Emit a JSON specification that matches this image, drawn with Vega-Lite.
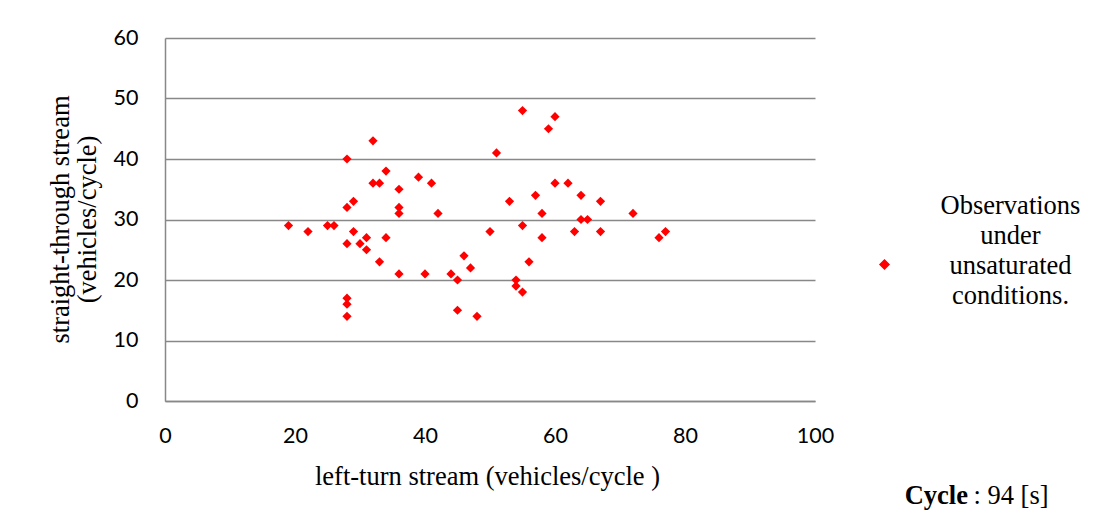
{
  "$schema": "https://vega.github.io/schema/vega-lite/v6.json",
  "autosize": "none",
  "padding": {"left": 165, "top": 38, "right": 305, "bottom": 116},
  "width": 650,
  "height": 363,
  "background": "white",
  "title": {"text": "Cycle", "orient": "top", "anchor": "start", "frame": "group", "align": "right", "baseline": "middle", "offset": 0, "dx": 803, "dy": 495, "font": "Liberation Serif", "fontSize": 26.5, "fontWeight": "bold", "color": "#000"},
  "config": {
    "view": {"stroke": null},
    "axis": {"labelFont": "Lato", "labelFontSize": 21.5, "labelColor": "#000", "labelFlush": false, "labelOverlap": false, "titleFont": "Liberation Serif", "titleFontSize": 26.5, "titleFontWeight": "normal", "titleColor": "#000", "domainColor": "#888", "domainWidth": 1.5, "gridColor": "#888", "gridWidth": 1.5, "ticks": false}
  },
  "data": {"values": [
    {"left": 19, "straight": 29}, {"left": 22, "straight": 28}, {"left": 25, "straight": 29}, {"left": 26, "straight": 29},
    {"left": 28, "straight": 40}, {"left": 28, "straight": 32}, {"left": 28, "straight": 26}, {"left": 28, "straight": 17},
    {"left": 28, "straight": 16}, {"left": 28, "straight": 14}, {"left": 29, "straight": 33}, {"left": 29, "straight": 28},
    {"left": 30, "straight": 26}, {"left": 31, "straight": 27}, {"left": 31, "straight": 25}, {"left": 32, "straight": 43},
    {"left": 32, "straight": 36}, {"left": 33, "straight": 36}, {"left": 33, "straight": 23}, {"left": 34, "straight": 38},
    {"left": 34, "straight": 27}, {"left": 36, "straight": 35}, {"left": 36, "straight": 32}, {"left": 36, "straight": 31},
    {"left": 36, "straight": 21}, {"left": 39, "straight": 37}, {"left": 40, "straight": 21}, {"left": 41, "straight": 36},
    {"left": 42, "straight": 31}, {"left": 44, "straight": 21}, {"left": 45, "straight": 20}, {"left": 45, "straight": 15},
    {"left": 46, "straight": 24}, {"left": 47, "straight": 22}, {"left": 48, "straight": 14}, {"left": 50, "straight": 28},
    {"left": 51, "straight": 41}, {"left": 53, "straight": 33}, {"left": 54, "straight": 20}, {"left": 54, "straight": 19},
    {"left": 55, "straight": 48}, {"left": 55, "straight": 29}, {"left": 55, "straight": 18}, {"left": 56, "straight": 23},
    {"left": 57, "straight": 34}, {"left": 58, "straight": 31}, {"left": 58, "straight": 27}, {"left": 59, "straight": 45},
    {"left": 60, "straight": 47}, {"left": 60, "straight": 36}, {"left": 62, "straight": 36}, {"left": 63, "straight": 28},
    {"left": 64, "straight": 34}, {"left": 64, "straight": 30}, {"left": 65, "straight": 30}, {"left": 67, "straight": 33},
    {"left": 67, "straight": 28}, {"left": 72, "straight": 31}, {"left": 76, "straight": 27}, {"left": 77, "straight": 28}
  ]},
  "layer": [
    {
      "mark": {"type": "point", "filled": true, "size": 85, "opacity": 1},
      "encoding": {
        "x": {"field": "left", "type": "quantitative", "scale": {"domain": [0, 100]},
          "axis": {"orient": "bottom", "values": [0, 20, 40, 60, 80, 100], "grid": false, "labelPadding": 24.5,
            "title": "left-turn stream (vehicles/cycle )", "titleX": 322, "titleY": 75, "titleBaseline": "middle", "titleAnchor": "middle", "titleAlign": "center"}},
        "y": {"field": "straight", "type": "quantitative", "scale": {"domain": [0, 60]},
          "axis": {"orient": "left", "values": [0, 10, 20, 30, 40, 50, 60], "grid": true, "labelPadding": 27,
            "title": ["straight-through stream", "(vehicles/cycle)"], "titleLineHeight": 27, "titleAngle": -90, "titleX": -105, "titleY": 181, "titleBaseline": "middle", "titleAlign": "center"}},
        "color": {"datum": "Observations under unsaturated conditions.", "type": "nominal", "scale": {"range": ["#ff0000"]},
          "legend": {"title": null, "orient": "none", "legendX": 714, "legendY": 221, "symbolType": "diamond", "symbolSize": 80, "symbolFillColor": "#ff0000", "symbolStrokeColor": "#ff0000",
            "labelExpr": "''", "labelFontSize": 1}},
        "shape": {"datum": "Observations under unsaturated conditions.", "type": "nominal", "scale": {"range": ["diamond"]}}
      }
    },
    {
      "mark": {"type": "point", "opacity": 0},
      "encoding": {
        "x": {"field": "left", "type": "quantitative",
          "axis": {"orient": "top", "labels": false, "domain": false, "grid": false, "ticks": false,
            "title": ["Observations", "under", "unsaturated", "conditions."], "titleLineHeight": 30, "titleX": 845, "titleY": 167, "titleAlign": "center", "titleBaseline": "middle", "titleAngle": 0}},
        "y": {"field": "straight", "type": "quantitative",
          "axis": {"orient": "right", "labels": false, "domain": false, "grid": false, "ticks": false,
            "title": ": 94 [s]", "titleX": 158, "titleY": 457, "titleAlign": "left", "titleBaseline": "middle", "titleAngle": 0}}
      }
    }
  ],
  "resolve": {"scale": {"x": "independent", "y": "independent"}, "axis": {"x": "independent", "y": "independent"}}
}
